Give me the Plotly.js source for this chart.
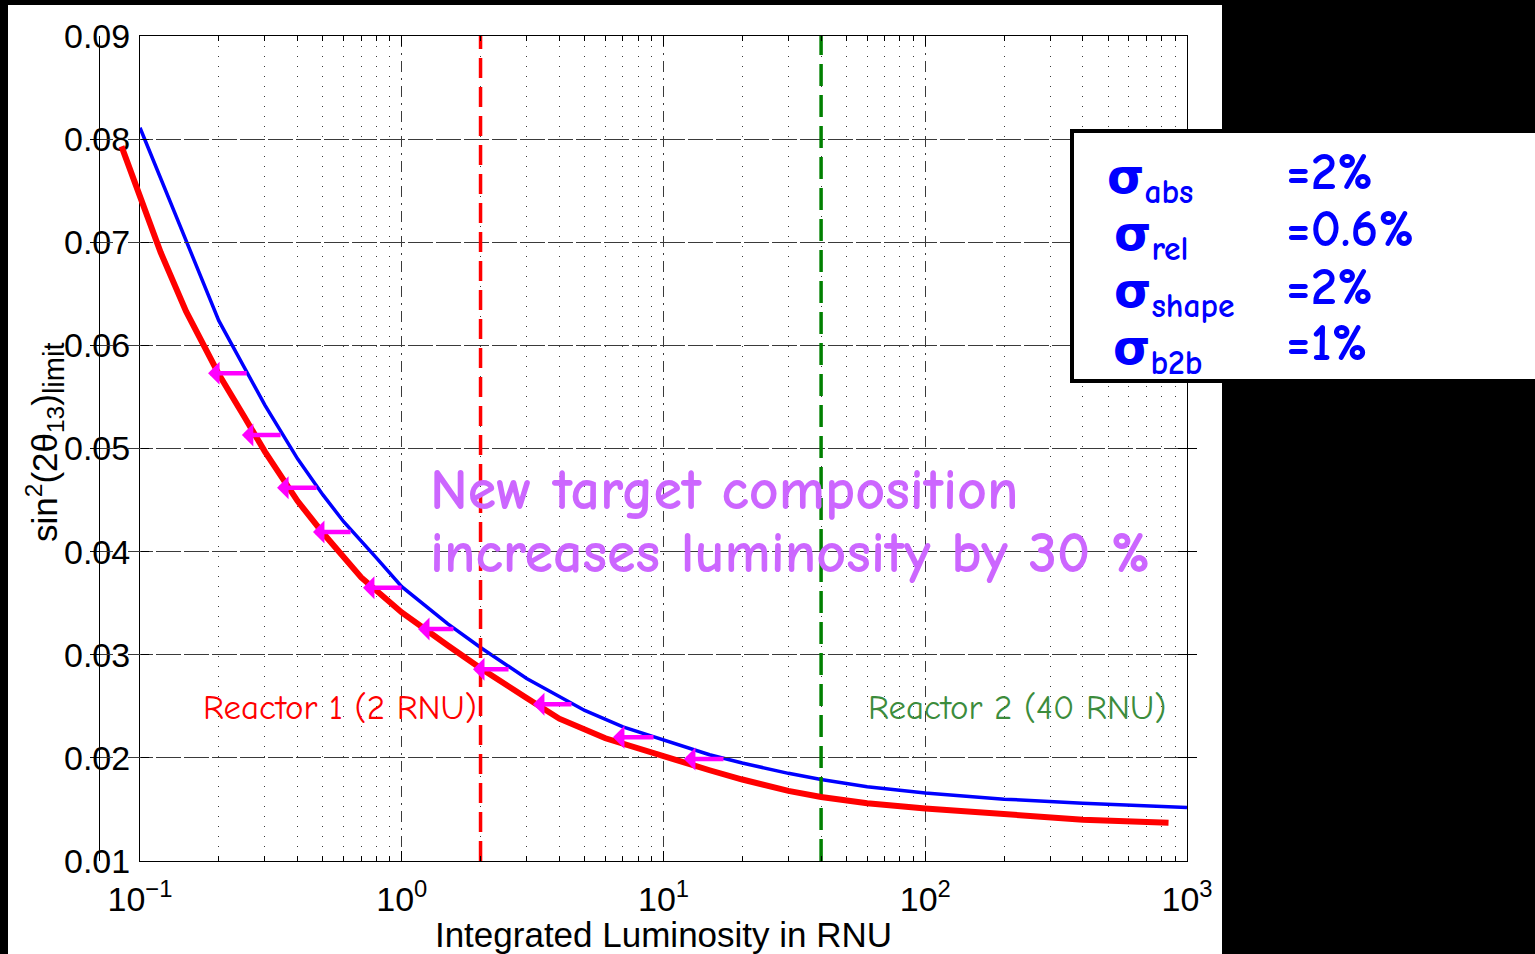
<!DOCTYPE html>
<html><head><meta charset="utf-8">
<script src="https://cdn.plot.ly/plotly-3.0.1.min.js"></script>
<style>html,body{margin:0;padding:0;background:#000;overflow:hidden}</style>
</head><body><div id="chart" style="width:1535px;height:954px"></div>
<script>
// ---- data ----
const blueX = [0.1, 0.2, 0.3, 0.4, 0.5, 0.6, 0.8, 1, 1.5, 2, 3, 4, 5, 7, 10, 15, 20, 30, 40, 60, 100, 200, 400, 1000];
const blueY = [0.0811, 0.0624, 0.0542, 0.0490, 0.0455, 0.0429, 0.0394, 0.0366, 0.0330, 0.0307, 0.0277, 0.0259, 0.0246, 0.0230, 0.0217, 0.0203, 0.0195, 0.0185, 0.0179, 0.0172, 0.0166, 0.0160, 0.0156, 0.0152];
const redX = [0.085, 0.1, 0.12, 0.15, 0.2, 0.25, 0.3, 0.4, 0.5, 0.7, 1, 1.5, 2, 3, 4, 6, 10, 15, 20, 30, 40, 60, 100, 200, 400, 850];
const redY = [0.0793, 0.0745, 0.0690, 0.0633, 0.0572, 0.0531, 0.0497, 0.0449, 0.0418, 0.0375, 0.0341, 0.0309, 0.0287, 0.0258, 0.0238, 0.0219, 0.0201, 0.0188, 0.0179, 0.0168, 0.0162, 0.0156, 0.0151, 0.0145, 0.0140, 0.0137];
const reactorRNU = [2, 40];
const reactorLabels = ['Reactor 1 (2 RNU)', 'Reactor 2 (40 RNU)'];
const arrowY = [0.0573, 0.0513, 0.0462, 0.0419, 0.0365, 0.0325, 0.0286, 0.0252, 0.0220, 0.0199];
const arrowFromX = [0.259, 0.349, 0.479, 0.646, 1.011, 1.597, 2.592, 4.51, 9.28, 17.18];
const arrowToX = [0.182, 0.245, 0.334, 0.458, 0.711, 1.154, 1.872, 3.172, 6.41, 11.97];
const xTickVals = [0.1, 1, 10, 100, 1000];
const xTickText = ['10<sup>\u22121</sup>', '10<sup>0</sup>', '10<sup>1</sup>', '10<sup>2</sup>', '10<sup>3</sup>'];
const yTickVals = [0.01, 0.02, 0.03, 0.04, 0.05, 0.06, 0.07, 0.08, 0.09];
const yTickText = ['0.01', '0.02', '0.03', '0.04', '0.05', '0.06', '0.07', '0.08', '0.09'];
const yRange = [0.01, 0.09];
const xRangeDecades = [-1, 3];
const sigmaNames = ['abs', 'rel', 'shape', 'b2b'];
const sigmaValues = ['=2%', '=0.6%', '=2%', '=1%'];
const noteLines = ['New target composition', 'increases luminosity by 30 %'];
const xTitle = 'Integrated Luminosity in RNU';
const yTitle = 'sin<sup>2</sup>(2\u03b8<sub>13</sub>)<sub><span style="font-size:29px">limit</span></sub>';

// ---- layout geometry ----
const W = 1535, H = 954, ML = 100, MR = 348, MT = 36, MB = 93;
const PW = W - ML - MR, PH = H - MT - MB;
const px = v => (v - ML) / PW;
const py = v => (H - MB - v) / PH;
const axisLeftPx = 140;
const decadePx = (W - MR - axisLeftPx) / (xRangeDecades[1] - xRangeDecades[0]);

const minorVals = [];
for (let d = -1; d < 3; d++) for (let k = 2; k <= 9; k++) minorVals.push(k * Math.pow(10, d));

const sans = 'Liberation Sans, Arial, sans-serif';
const comic = "'Comic Sans MS', 'Comic Neue', 'DejaVu Sans', sans-serif";
const gridCol = '#3a3a3a';

const traces = [
  {x: blueX, y: blueY, xaxis: 'x', yaxis: 'y', mode: 'lines', line: {color: '#0000ff', width: 3.5}},
  {x: [reactorRNU[0], reactorRNU[0]], y: yRange, xaxis: 'x', yaxis: 'y', mode: 'lines',
   line: {color: '#ff0000', width: 3.5, dash: '20px,9px'}},
  {x: [reactorRNU[1], reactorRNU[1]], y: yRange, xaxis: 'x', yaxis: 'y', mode: 'lines',
   line: {color: '#008000', width: 3.5, dash: '22px,9px'}},
  {x: redX, y: redY, xaxis: 'x2', yaxis: 'y', mode: 'lines', line: {color: '#ff0000', width: 6}}
];

const annotations = [];
arrowY.forEach((y, i) => annotations.push({
  xref: 'x', yref: 'y', axref: 'x', ayref: 'y',
  x: Math.log10(arrowToX[i]), y: y, ax: Math.log10(arrowFromX[i]), ay: y,
  text: '', showarrow: true, arrowhead: 1, arrowsize: 0.85, arrowwidth: 4.5, arrowcolor: '#ff00ff', standoff: 0
}));
const noteRowY = [490, 553];
noteLines.forEach((t, i) => annotations.push({xref: 'paper', yref: 'paper', x: px(428), y: py(noteRowY[i]),
  xanchor: 'left', yanchor: 'middle', text: t, showarrow: false,
  font: {family: comic, size: 58, color: '#cc66ff', weight: 'bold'}}));
annotations.push({xref: 'paper', yref: 'paper', x: px(201), y: py(707), xanchor: 'left', yanchor: 'middle',
  text: reactorLabels[0], showarrow: false, font: {family: comic, size: 35, color: '#ff0000'}});
annotations.push({xref: 'paper', yref: 'paper', x: px(1168), y: py(707), xanchor: 'right', yanchor: 'middle',
  text: reactorLabels[1], showarrow: false, font: {family: comic, size: 35, color: '#3c8c3c'}});
annotations.push({xref: 'paper', yref: 'paper', x: px(45), y: py(443), xanchor: 'center', yanchor: 'middle',
  textangle: -90, text: yTitle, showarrow: false, font: {family: sans, size: 35, color: '#000'}});
const legendRowY = [180, 237, 294, 351];
const legendSigX = [1105, 1112, 1112, 1111];
sigmaNames.forEach((n, i) => {
  annotations.push({xref: 'paper', yref: 'paper', x: px(legendSigX[i]), y: py(legendRowY[i]), xanchor: 'left', yanchor: 'middle',
    text: '\u03c3<sub>' + n + '</sub>', showarrow: false, font: {family: comic, size: 48, color: '#0000ff', weight: 'bold'}});
  annotations.push({xref: 'paper', yref: 'paper', x: px(1284), y: py(legendRowY[i] - 8), xanchor: 'left', yanchor: 'middle',
    text: sigmaValues[i], showarrow: false, font: {family: comic, size: 53, color: '#0000ff', weight: 'bold'}});
});

const layout = {
  width: W, height: H,
  margin: {l: ML, r: MR, t: MT, b: MB, pad: 0},
  paper_bgcolor: '#000000', plot_bgcolor: 'rgba(0,0,0,0)',
  showlegend: false, hovermode: false,
  xaxis: {
    type: 'log', range: xRangeDecades, domain: [px(axisLeftPx), 1], anchor: 'y',
    tickmode: 'array', tickvals: xTickVals, ticktext: xTickText,
    tickfont: {family: sans, size: 34, color: '#000'}, ticklabelstandoff: 8,
    ticks: 'inside', ticklen: 10, tickcolor: '#000', tickwidth: 1,
    showline: true, linecolor: '#000', linewidth: 1, mirror: 'allticks',
    showgrid: true, gridcolor: gridCol, gridwidth: 1, griddash: '11px,6px,2px,6px', zeroline: false,
    minor: {tickmode: 'array', tickvals: minorVals, ticks: 'inside', ticklen: 5, tickcolor: '#000',
            showgrid: true, gridcolor: gridCol, gridwidth: 1, griddash: '1px,9px'},
    title: {text: xTitle, font: {family: sans, size: 35, color: '#000'}, standoff: 9},
    automargin: false
  },
  xaxis2: {
    type: 'log', domain: [0, 1], anchor: 'y', visible: false, showgrid: false, zeroline: false,
    range: [xRangeDecades[0] - (axisLeftPx - ML) / decadePx, xRangeDecades[1]]
  },
  yaxis: {
    range: yRange, domain: [0, 1], anchor: 'x',
    tickmode: 'array', tickvals: yTickVals, ticktext: yTickText,
    tickfont: {family: sans, size: 34, color: '#000'}, ticklabelstandoff: 2,
    ticks: 'inside', ticklen: 9, tickcolor: '#000', tickwidth: 1,
    showline: true, linecolor: '#000', linewidth: 1, mirror: 'allticks',
    showgrid: true, gridcolor: gridCol, gridwidth: 1, griddash: '13px,15px', zeroline: false,
    automargin: false
  },
  shapes: [
    {type: 'rect', xref: 'paper', yref: 'paper', x0: px(8), x1: px(1222), y0: py(954), y1: py(5),
     fillcolor: '#ffffff', line: {width: 0}, layer: 'below'},
    {type: 'rect', xref: 'paper', yref: 'paper', x0: px(1072), x1: px(1545), y0: py(381), y1: py(131),
     fillcolor: '#ffffff', line: {color: '#000', width: 4}, layer: 'above'}
  ],
  annotations: annotations
};

Plotly.newPlot('chart', traces, layout, {staticPlot: true, displayModeBar: false});
</script>
</body></html>
